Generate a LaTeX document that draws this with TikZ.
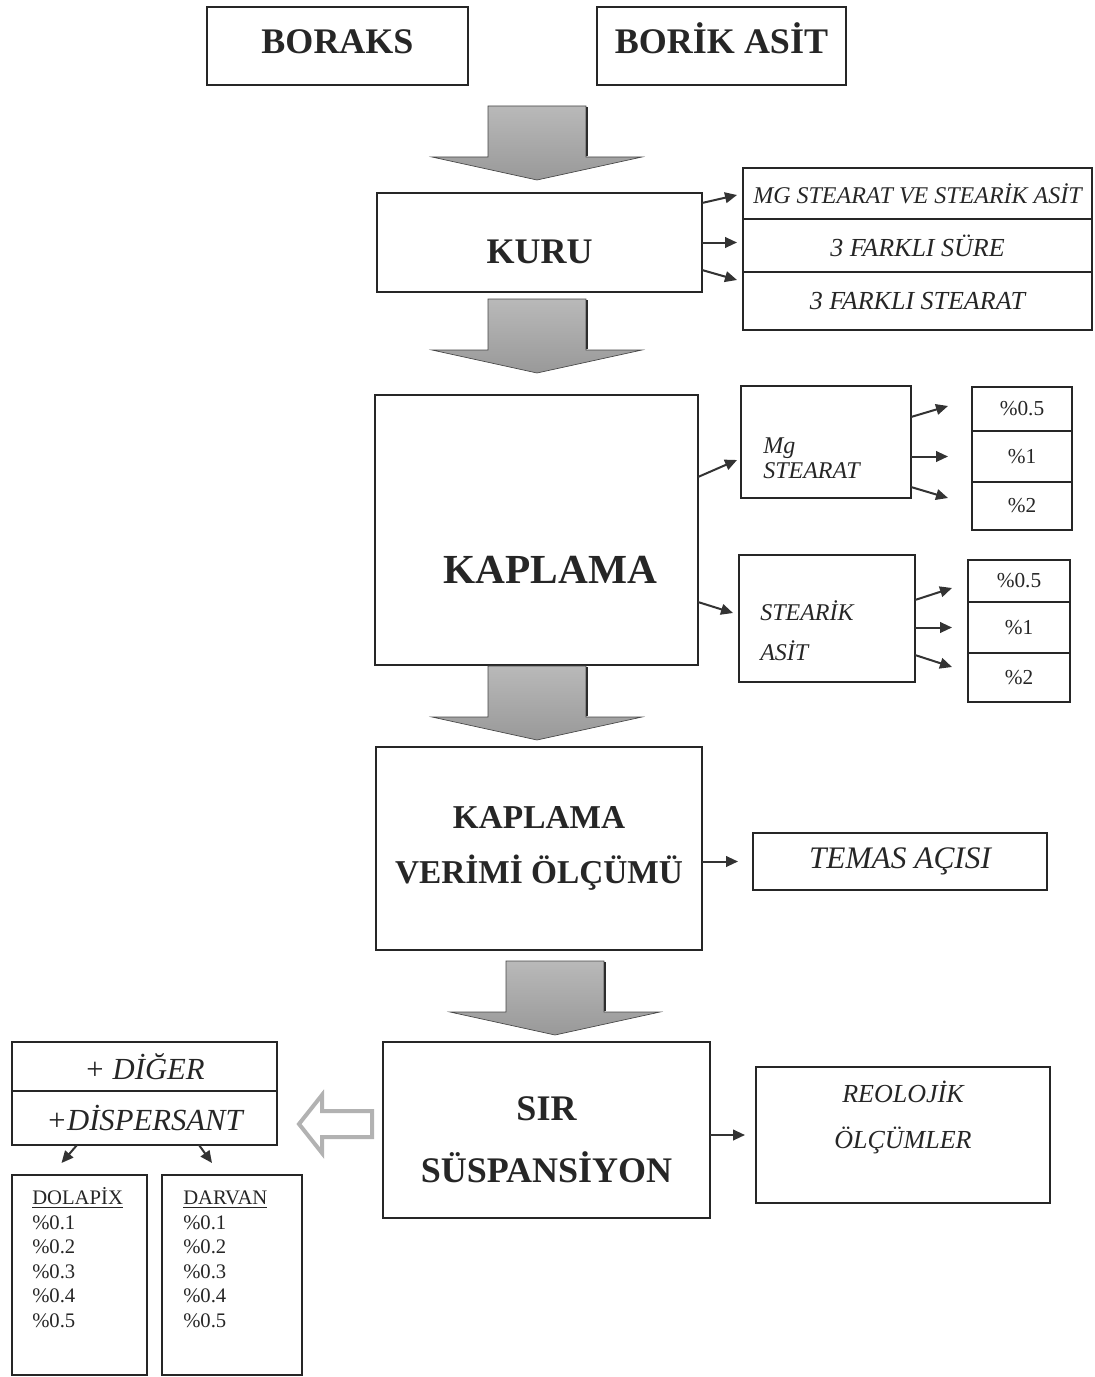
\documentclass[tikz,border=0pt]{standalone}
\usepackage{fontspec}
\setmainfont{Liberation Serif}
\usetikzlibrary{arrows.meta,positioning,calc}

\newcommand{\pxu}{0.75pt}
% big shaded down arrow, #1 = coordinate of its tip
\newcommand{\fatdown}[1]{%
  \shade[fat, shift={(#1)}] (0,0) -- (-105,-23) -- (-49,-23) -- (-49,-74)
    -- (49,-74) -- (49,-23) -- (105,-23) -- cycle;
  \draw[gray!35!black, line width=1.4pt, shift={(#1)}] (50,-73) -- (50,-24);}

\begin{document}
\begin{tikzpicture}[x={(0.75pt,0)}, y={(0,-0.75pt)},
  box/.style={draw=black!85, line width=1.3pt, inner sep=0pt, outer sep=0pt, align=center, text=black!85},
  txt/.style={inner sep=0pt, text=black!85},
  head/.style={font=\fontsize{27}{46.5}\selectfont\bfseries},
  opt/.style={font=\fontsize{19.5}{23}\selectfont\itshape},
  pct/.style={font=\fontsize{16}{19}\selectfont},
  arr/.style={-{Triangle[length=9pt,width=8pt]}, line width=1.5pt, draw=black!80},
  fat/.style={top color=gray!55, middle color=gray!28, bottom color=gray!80, draw=gray!55!black, line width=0.5pt},
  hollow/.style={draw=gray!60, line width=3pt, fill=white, line join=miter}
]
\useasboundingbox (0,0) rectangle (1095,1377);

\node[box, head, text height=12pt, text depth=0pt, minimum width=261*\pxu, minimum height=78*\pxu] (boraks) at (337.5,46) {BORAKS};
\node[box, head, text height=12pt, text depth=0pt, minimum width=249*\pxu, minimum height=78*\pxu] (borik) at (721.5,46) {BORİK ASİT};

% kuru
\node[box, head, text height=31pt, text depth=0pt, minimum width=325*\pxu, minimum height=99*\pxu] (kuru) at (539.5,242.5) {KURU};
\node[box, font=\fontsize{18}{22}\selectfont\itshape, minimum width=349*\pxu, minimum height=51*\pxu] (opt1) at (917.5,193.5) {MG STEARAT VE STEARİK ASİT};
\node[box, opt, minimum width=349*\pxu, minimum height=53*\pxu, below=0pt of opt1] (opt2) {3 FARKLI SÜRE};
\node[box, opt, minimum width=349*\pxu, minimum height=58*\pxu, below=0pt of opt2] (opt3) {3 FARKLI STEARAT};

\draw[arr] ($(kuru.north east)+(0,10)$) -- ($(opt1.west)+(-6,1.5)$);
\draw[arr] (kuru.east) -- ($(kuru.east -| opt2.west)+(-6,0)$);
\draw[arr] ($(kuru.south east)+(0,-22)$) -- ($(opt3.west)+(-6,-21)$);

% kaplama
\node[box, minimum width=323*\pxu, minimum height=270*\pxu] (kaplama) at (536.5,530) {};
\node[txt, font=\fontsize{31}{36}\selectfont\bfseries, anchor=base] (kaplamat) at (550.5,583) {KAPLAMA};

\node[box, minimum width=170*\pxu, minimum height=112*\pxu] (mg) at (826,442) {};
\node[txt, font=\fontsize{18}{18.75}\selectfont\itshape, align=left, anchor=base west] (mgt) at (763,478) {Mg\\STEARAT};
\node[box, pct, minimum width=100*\pxu, minimum height=44*\pxu] (mg1) at (1022,409) {\%0.5};
\node[box, pct, minimum width=100*\pxu, minimum height=51*\pxu, below=0pt of mg1] (mg2) {\%1};
\node[box, pct, minimum width=100*\pxu, minimum height=48*\pxu, below=0pt of mg2] (mg3) {\%2};

\node[box, minimum width=176*\pxu, minimum height=127*\pxu] (sa) at (827,618.5) {};
\node[txt, font=\fontsize{18}{30}\selectfont\itshape, align=left, anchor=base west] (sat) at (760,660) {STEARİK\\ASİT};
\node[box, pct, minimum width=102*\pxu, minimum height=42*\pxu] (sa1) at (1019,581) {\%0.5};
\node[box, pct, minimum width=102*\pxu, minimum height=51*\pxu, below=0pt of sa1] (sa2) {\%1};
\node[box, pct, minimum width=102*\pxu, minimum height=49*\pxu, below=0pt of sa2] (sa3) {\%2};

\draw[arr] ($(kaplama.east)+(0,-53)$) -- ($(mg.west)+(-4,18)$);
\draw[arr] ($(kaplama.east)+(0,72)$) -- ($(sa.west)+(-6,-5.5)$);
\draw[arr] ($(mg.north east)+(0,31)$) -- ($(mg1.west)+(-24,-3)$);
\draw[arr] (mg.east |- mg2.west) -- ($(mg2.west)+(-24,0)$);
\draw[arr] ($(mg.south east)+(0,-11)$) -- ($(mg3.west)+(-24,-8)$);
\draw[arr] ($(sa.east)+(0,-18.5)$) -- ($(sa1.west)+(-16,7)$);
\draw[arr] (sa.east |- sa2.west) -- ($(sa2.west)+(-16,0)$);
\draw[arr] ($(sa.south east)+(0,-27)$) -- ($(sa3.west)+(-16,-10.5)$);

% verim
\node[box, font=\fontsize{25}{41}\selectfont\bfseries, minimum width=326*\pxu, minimum height=203*\pxu] (verim) at (539,848.5) {KAPLAMA\\VERİMİ ÖLÇÜMÜ};
\node[box, font=\fontsize{23.5}{28}\selectfont\itshape, minimum width=294*\pxu, minimum height=57*\pxu] (temas) at (900,861.5) {TEMAS AÇISI};
\draw[arr] (verim.east |- temas.west) -- ($(temas.west)+(-15,0)$);

% sir
\node[box, head, text height=78pt, text depth=0pt, minimum width=327*\pxu, minimum height=176*\pxu] (sir) at (546.5,1130) {SIR\\SÜSPANSİYON};
\node[box, minimum width=294*\pxu, minimum height=136*\pxu] (reol) at (903,1135) {};
\node[txt, font=\fontsize{19.5}{34.5}\selectfont\itshape, align=center, anchor=base] (reolt) at (903,1148) {REOLOJİK\\ÖLÇÜMLER};
\draw[arr] (sir.east |- reol.west) -- ($(reol.west)+(-11,0)$);

\node[box, font=\fontsize{23}{27}\selectfont\itshape, minimum width=265*\pxu, minimum height=49*\pxu] (d1) at (144.5,1066.5) {+ DİĞER};
\node[box, font=\fontsize{23}{27}\selectfont\itshape, minimum width=265*\pxu, minimum height=54*\pxu, below=0pt of d1] (d2) {+DİSPERSANT};
\coordinate (htip) at ($(d2.east)+(22,6)$);
\draw[hollow, shift={(htip)}] (0,0) -- (23,-29) -- (23,-13) -- (73,-13) -- (73,13) -- (23,13) -- (23,29) -- cycle;

\node[box, minimum width=135*\pxu, minimum height=200*\pxu] (dolapix) at (79.5,1275) {};
\node[box, minimum width=140*\pxu, minimum height=200*\pxu] (darvan) at (232,1275) {};
\node[txt, font=\fontsize{15.5}{18.4}\selectfont, align=left, anchor=base west] (dolt) at (32,1327.5) {\underline{DOLAPİX}\\\%0.1\\\%0.2\\\%0.3\\\%0.4\\\%0.5};
\node[txt, font=\fontsize{15.5}{18.4}\selectfont, align=left, anchor=base west] (darvt) at (183,1327.5) {\underline{DARVAN}\\\%0.1\\\%0.2\\\%0.3\\\%0.4\\\%0.5};
\draw[arr] ($(d2.south west)+(65,0)$) -- ($(dolapix.north)+(-18,-12)$);
\draw[arr] ($(d2.south west)+(187,0)$) -- ($(darvan.north)+(-20,-12)$);

% big arrows
\coordinate (t1) at ($(kuru.north)+(-2.5,-13)$);
\coordinate (t2) at ($(kaplama.north)+(0.5,-22)$);
\coordinate (t3) at ($(verim.north)+(-2,-7)$);
\coordinate (t4) at ($(sir.north)+(8.5,-7)$);
\fatdown{t1}
\fatdown{t2}
\fatdown{t3}
\fatdown{t4}

\end{tikzpicture}
\end{document}
